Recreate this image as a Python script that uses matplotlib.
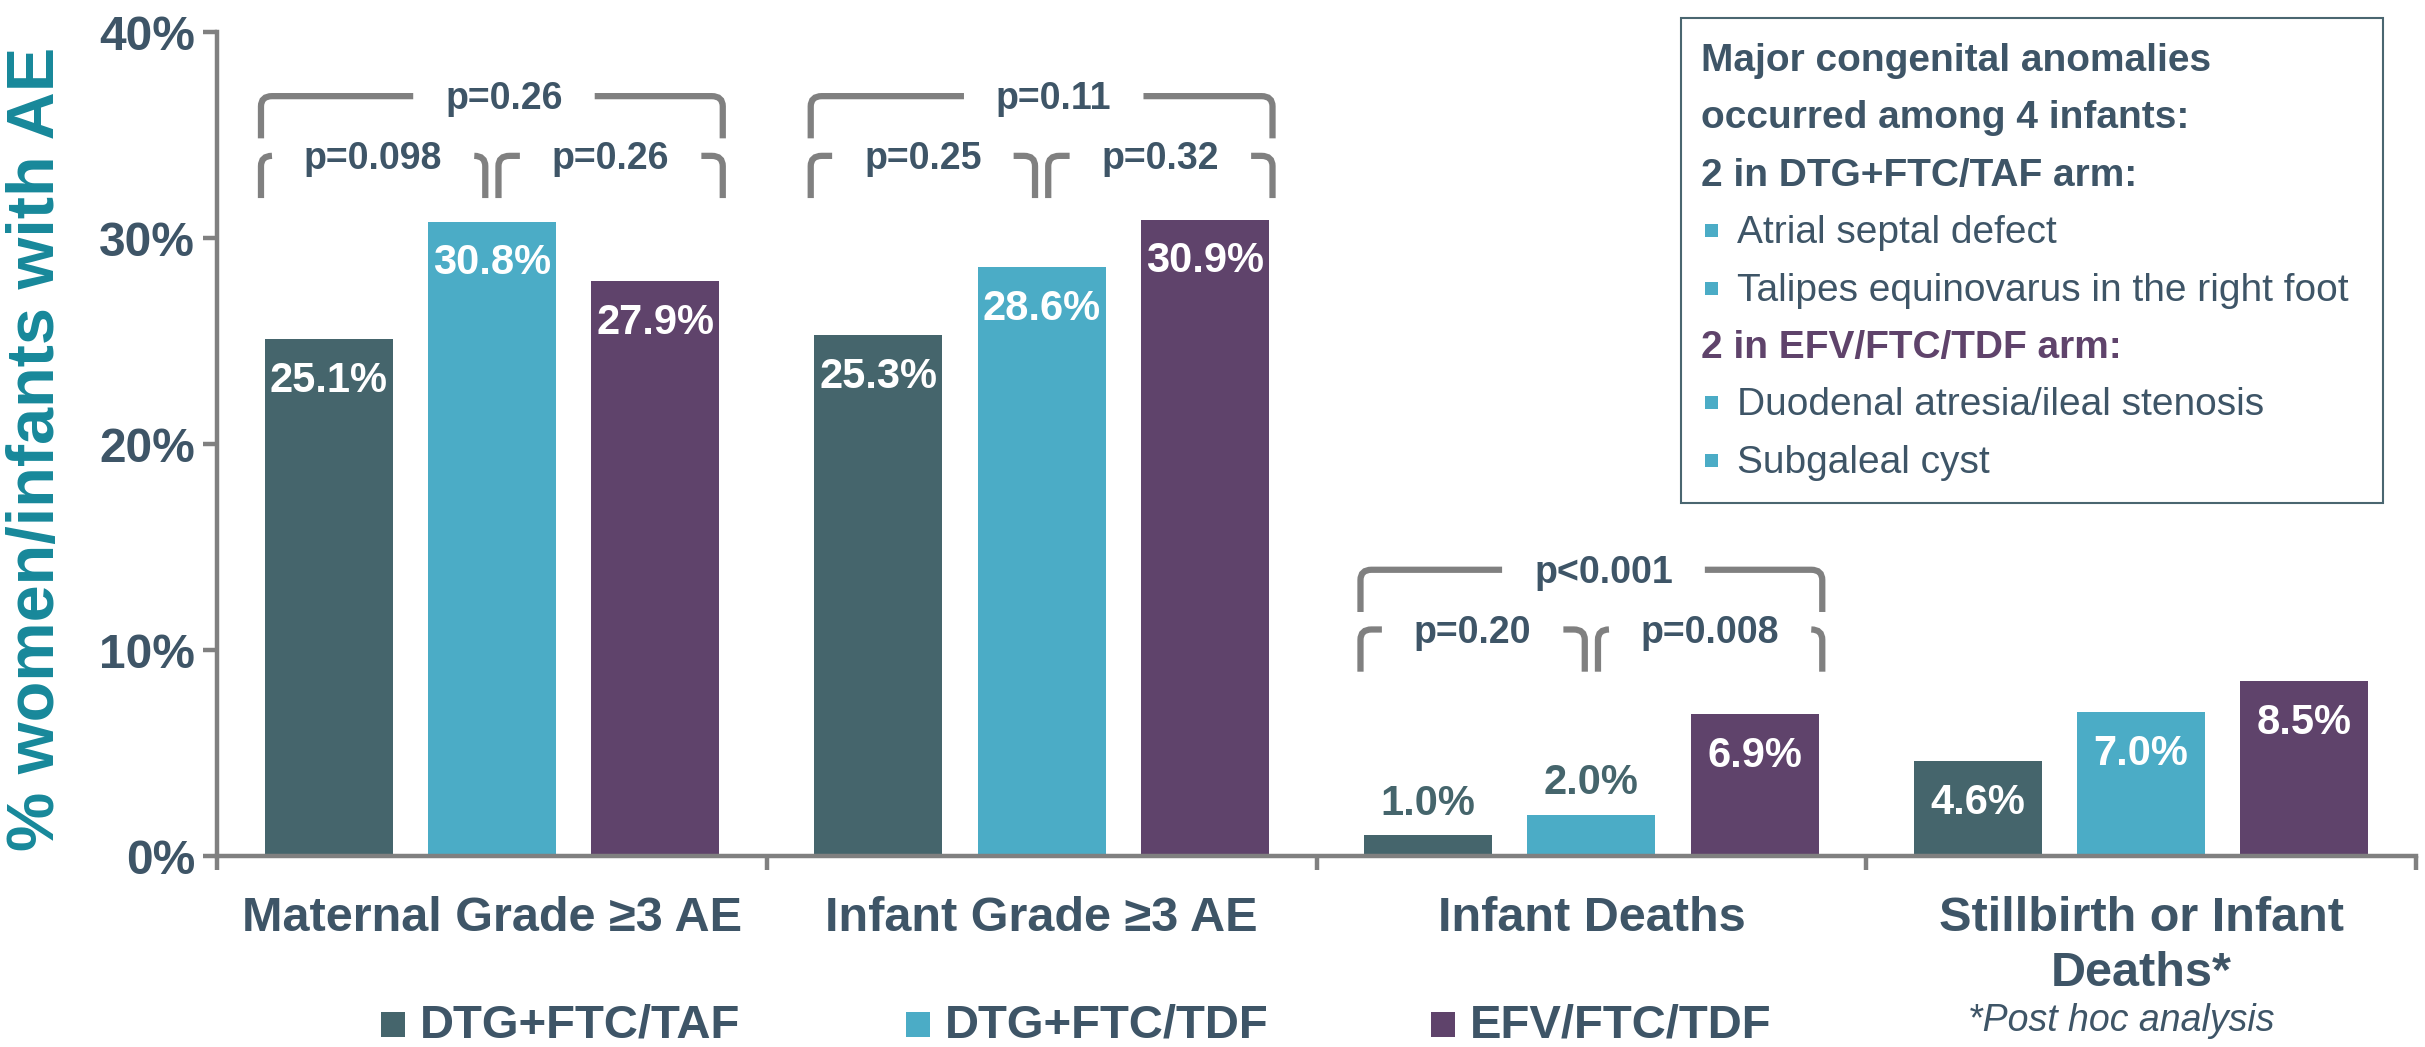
import numpy as np
import matplotlib
matplotlib.use("Agg")
import matplotlib.pyplot as plt
from matplotlib.patches import Rectangle, PathPatch
from matplotlib.path import Path

plt.rcParams['font.family'] = ['Liberation Sans', 'DejaVu Sans']

W, H = 2425, 1047

categories = ['Maternal Grade ≥3 AE', 'Infant Grade ≥3 AE', 'Infant Deaths',
              'Stillbirth or Infant\nDeaths*']
series = ['DTG+FTC/TAF', 'DTG+FTC/TDF', 'EFV/FTC/TDF']
taf = [25.1, 25.3, 1.0, 4.6]
tdf = [30.8, 28.6, 2.0, 7.0]
efv = [27.9, 30.9, 6.9, 8.5]
yticks = [0, 10, 20, 30, 40]

# p-value brackets (category index, outer, left pair, right pair)
p_cats = [0, 1, 2]
p_outer = ['p=0.26', 'p=0.11', 'p<0.001']
p_left = ['p=0.098', 'p=0.25', 'p=0.20']
p_right = ['p=0.26', 'p=0.32', 'p=0.008']
p_level = [36.9, 36.9, 13.9]

box_lines = [
    ('Major congenital anomalies', 'head'),
    ('occurred among 4 infants:', 'head'),
    ('2 in DTG+FTC/TAF arm:', 'head'),
    ('Atrial septal defect', 'item'),
    ('Talipes equinovarus in the right foot', 'item'),
    ('2 in EFV/FTC/TDF arm:', 'arm'),
    ('Duodenal atresia/ileal stenosis', 'item'),
    ('Subgaleal cyst', 'item'),
]

colors = ['#45656C', '#4BACC6', '#5F436B']
txt = '#3E5567'
gray = '#808080'

fig = plt.figure(figsize=(W / 100, H / 100), dpi=100)
ax = fig.add_axes([217 / W, 1 - 856 / H, (2416 - 217) / W, (856 - 32.3) / H])
ax.set_xlim(-0.5, 3.5)
ax.set_ylim(0, 40)

x = np.arange(len(categories))
offs = [-0.297, 0.0, 0.297]
bw = 0.233
for vals, off, c in zip([taf, tdf, efv], offs, colors):
    ax.bar(x + off, vals, bw, color=c, zorder=2)
    for xi, v in zip(x + off, vals):
        if v < 3:
            ax.text(xi, v + 1.0, f'{v:.1f}%', ha='center', va='baseline',
                    fontsize=30, fontweight='bold', color=colors[0])
        else:
            ax.text(xi, v - 2.56, f'{v:.1f}%', ha='center', va='baseline',
                    fontsize=30, fontweight='bold', color='white', zorder=3)

renderer = fig.canvas.get_renderer()
inv = ax.transData.inverted()


def ptext(xc, y, s):
    t = ax.text(xc, y - 0.64, s, ha='center', va='baseline', fontsize=27,
                fontweight='bold', color=txt, zorder=4)
    bb = t.get_window_extent(renderer=renderer)
    gx0 = inv.transform((bb.x0 - 32, 0))[0]
    gx1 = inv.transform((bb.x1 + 32, 0))[0]
    return gx0, gx1


def bracket(x0, x1, y, gap, drop=2.05, rx=0.02, ry=0.5):
    g0 = max(gap[0], x0 + rx)
    g1 = min(gap[1], x1 - rx)
    verts = [(x0, y - drop), (x0, y - ry), (x0, y), (x0 + rx, y), (g0, y),
             (g1, y), (x1 - rx, y), (x1, y), (x1, y - ry), (x1, y - drop)]
    codes = [Path.MOVETO, Path.LINETO, Path.CURVE3, Path.CURVE3, Path.LINETO,
             Path.MOVETO, Path.LINETO, Path.CURVE3, Path.CURVE3, Path.LINETO]
    ax.add_patch(PathPatch(Path(verts, codes), fill=False, edgecolor=gray,
                           lw=4.5, capstyle='butt', zorder=3))


for g, po, pl, pr, lev in zip(p_cats, p_outer, p_left, p_right, p_level):
    left, right = g - 0.42, g + 0.42
    low = lev - 2.9
    bracket(left, right, lev, ptext(g + 0.022, lev, po))
    bracket(left, g - 0.012, low, ptext((left + g - 0.012) / 2, low, pl))
    bracket(g + 0.012, right, low, ptext((g + 0.012 + right) / 2, low, pr))

ax.set_yticks(yticks)
ax.set_yticklabels([f'{v}%' for v in yticks])
ax.set_xticks(x)
ax.set_xticklabels(categories)
ax.set_xticks(np.arange(len(categories) + 1) - 0.5, minor=True)
for t in ax.get_xticklabels():
    t.set_linespacing(1.28)
    t.set_multialignment('center')

for s in ['top', 'right']:
    ax.spines[s].set_visible(False)
for s in ['left', 'bottom']:
    ax.spines[s].set_color(gray)
    ax.spines[s].set_linewidth(3.2)

ax.tick_params(axis='y', length=10, width=3.2, color=gray, pad=5.8,
               labelsize=34.5, labelcolor=txt)
ax.tick_params(axis='x', which='major', length=0, pad=29,
               labelsize=35, labelcolor=txt)
ax.tick_params(axis='x', which='minor', length=10, width=3.2, color=gray)
for t in ax.get_yticklabels() + ax.get_xticklabels():
    t.set_fontweight('bold')

fig.text(37 / W, 1 - 449 / H, '% women/infants with AE', rotation=90,
         ha='center', va='center', fontsize=48, fontweight='bold',
         color='#17889A')

# annotation box
fig.add_artist(Rectangle((1681.4 / W, 1 - 503.3 / H), 701.6 / W, 485 / H,
                         transform=fig.transFigure, fill=False,
                         edgecolor='#4A6670', lw=1.5))
for i, (s, kind) in enumerate(box_lines):
    base = 71 + 57.4 * i
    yf = 1 - base / H
    if kind == 'item':
        fig.add_artist(Rectangle((1705 / W, 1 - (base - 6) / H), 13 / W, 13 / H,
                                 transform=fig.transFigure, color=colors[1],
                                 lw=0))
        fig.text(1737 / W, yf, s, fontsize=28, color=txt, va='baseline')
    else:
        fig.text(1701 / W, yf, s, fontsize=28, fontweight='bold', va='baseline',
                 color=colors[2] if kind == 'arm' else txt)

# legend
for i, (name, c) in enumerate(zip(series, colors)):
    sx = 381 + 525 * i
    fig.add_artist(Rectangle((sx / W, 1 - 1037 / H), 24 / W, 25 / H,
                             transform=fig.transFigure, color=c, lw=0))
    fig.text((sx + 39) / W, 1 - 1037 / H, name, fontsize=34, fontweight='bold',
             color=txt, va='baseline')

fig.text(2121 / W, 1 - 1031 / H, '*Post hoc analysis', fontsize=27,
         style='italic', color=txt, ha='center', va='baseline')

fig.savefig('out.png', dpi=100)
